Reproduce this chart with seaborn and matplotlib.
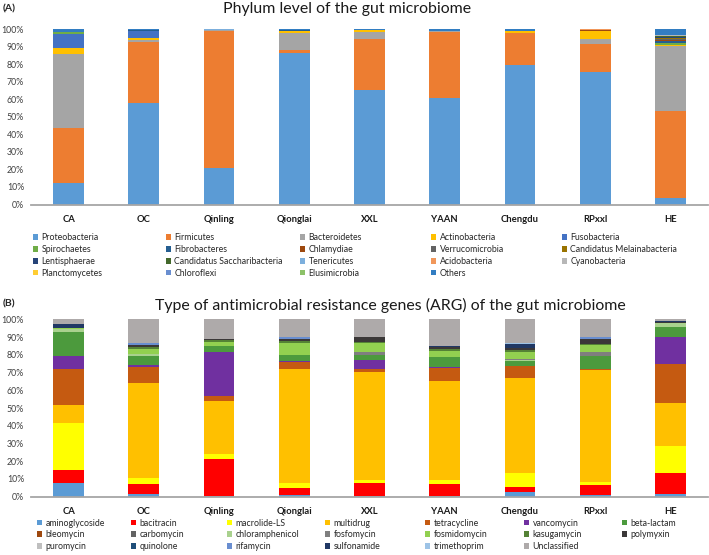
import numpy as np
import matplotlib
matplotlib.use("Agg")
import matplotlib.pyplot as plt
from matplotlib.patches import Patch
import seaborn as sns

# ---------------- data ----------------
sites = ["CA", "OC", "Qinling", "Qionglai", "XXL", "YAAN", "Chengdu", "RPxxl", "HE"]

# Panel A: phylum relative abundance (%)
phylum_names = ["Proteobacteria", "Firmicutes", "Bacteroidetes", "Actinobacteria", "Fusobacteria",
                "Spirochaetes", "Fibrobacteres", "Chlamydiae", "Verrucomicrobia", "Candidatus Melainabacteria",
                "Lentisphaerae", "Candidatus Saccharibacteria", "Tenericutes", "Acidobacteria", "Cyanobacteria",
                "Planctomycetes", "Chloroflexi", "Elusimicrobia", "Others"]
proteobacteria = [12.5, 57.8, 20.8, 86.4, 65.4, 60.6, 79.7, 75.5, 3.6]
firmicutes = [31.3, 35.1, 78.5, 1.6, 28.9, 37.9, 18.0, 16.3, 50.0]
bacteroidetes = [42.2, 1.0, 0.3, 9.9, 4.4, 0.4, 0.0, 2.5, 37.0]
actinobacteria = [3.2, 1.0, 0.0, 1.2, 0.9, 0.0, 1.2, 4.9, 0.6]
fusobacteria = [8.4, 4.3, 0.0, 0.0, 0.0, 0.2, 0.0, 0.0, 0.0]
spirochaetes = [0.6, 0.0, 0.0, 0.0, 0.0, 0.0, 0.0, 0.0, 1.2]
fibrobacteres = [0.0, 0.4, 0.0, 0.5, 0.0, 0.0, 0.0, 0.0, 0.8]
chlamydiae = [0.0, 0.0, 0.0, 0.0, 0.0, 0.0, 0.0, 0.5, 0.5]
verrucomicrobia = [0.0, 0.0, 0.0, 0.0, 0.0, 0.0, 0.0, 0.0, 0.6]
cand_melainabacteria = [0.0, 0.0, 0.0, 0.0, 0.0, 0.0, 0.0, 0.0, 0.5]
lentisphaerae = [0.0, 0.0, 0.0, 0.0, 0.0, 0.0, 0.0, 0.0, 0.8]
cand_saccharibacteria = [0.0, 0.0, 0.0, 0.0, 0.0, 0.0, 0.0, 0.0, 0.3]
tenericutes = [0.0, 0.0, 0.4, 0.0, 0.0, 0.0, 0.0, 0.0, 0.3]
acidobacteria = [0.0, 0.0, 0.0, 0.0, 0.0, 0.0, 0.0, 0.3, 0.0]
cyanobacteria = [0.0, 0.0, 0.0, 0.0, 0.0, 0.0, 0.0, 0.0, 0.3]
planctomycetes = [0.0] * 9
chloroflexi = [0.0] * 9
elusimicrobia = [0.0] * 9
others = [1.8, 0.4, 0.0, 0.4, 0.4, 0.9, 1.1, 0.0, 3.5]
phylum_values = [proteobacteria, firmicutes, bacteroidetes, actinobacteria, fusobacteria,
                 spirochaetes, fibrobacteres, chlamydiae, verrucomicrobia, cand_melainabacteria,
                 lentisphaerae, cand_saccharibacteria, tenericutes, acidobacteria, cyanobacteria,
                 planctomycetes, chloroflexi, elusimicrobia, others]

# Panel B: ARG type relative abundance (%)
arg_names = ["aminoglycoside", "bacitracin", "macrolide-LS", "multidrug", "tetracycline", "vancomycin",
             "beta-lactam", "bleomycin", "carbomycin", "chloramphenicol", "fosfomycin", "fosmidomycin",
             "kasugamycin", "polymyxin", "puromycin", "quinolone", "rifamycin", "sulfonamide",
             "trimethoprim", "Unclassified"]
aminoglycoside = [7.7, 1.7, 0.3, 1.0, 0.3, 0.3, 2.6, 0.8, 1.7]
bacitracin = [7.5, 5.5, 21.1, 3.9, 7.6, 7.0, 3.0, 5.8, 11.7]
macrolide_ls = [26.5, 3.3, 2.8, 2.8, 1.5, 2.1, 7.9, 1.9, 15.4]
multidrug = [10.0, 53.6, 29.9, 64.5, 60.9, 55.8, 53.2, 62.7, 23.8]
tetracycline = [20.1, 9.0, 2.8, 3.7, 1.9, 7.5, 7.1, 1.0, 22.2]
vancomycin = [7.5, 1.1, 24.7, 0.8, 5.0, 0.4, 0.0, 0.0, 15.2]
beta_lactam = [13.6, 4.9, 3.6, 3.3, 2.8, 5.8, 2.5, 7.1, 5.6]
bleomycin = [0.0] * 9
carbomycin = [0.0] * 9
chloramphenicol = [1.5, 1.5, 0.0, 0.0, 0.0, 0.0, 0.8, 0.0, 2.3]
fosfomycin = [0.0, 0.0, 0.0, 0.0, 1.6, 0.0, 0.7, 2.3, 0.0]
fosmidomycin = [0.6, 2.8, 2.2, 6.8, 5.2, 3.0, 3.8, 4.1, 0.0]
kasugamycin = [0.0, 1.2, 0.8, 0.8, 0.6, 1.1, 1.1, 0.5, 0.0]
polymyxin = [0.0, 0.7, 0.7, 1.5, 2.8, 1.2, 1.1, 2.9, 0.5]
puromycin = [0.0] * 9
quinolone = [0.0] * 9
rifamycin = [0.0, 1.3, 0.0, 0.8, 0.0, 0.0, 0.0, 0.8, 0.0]
sulfonamide = [2.5, 0.0, 0.0, 0.0, 0.0, 0.7, 2.3, 0.0, 0.6]
trimethoprim = [0.0, 0.0, 0.0, 0.0, 0.0, 0.0, 0.7, 0.0, 0.0]
unclassified = [2.5, 13.4, 11.1, 10.1, 9.8, 15.1, 13.2, 10.1, 1.0]
arg_values = [aminoglycoside, bacitracin, macrolide_ls, multidrug, tetracycline, vancomycin,
              beta_lactam, bleomycin, carbomycin, chloramphenicol, fosfomycin, fosmidomycin,
              kasugamycin, polymyxin, puromycin, quinolone, rifamycin, sulfonamide,
              trimethoprim, unclassified]

ytick_vals = list(range(0, 101, 10))
ytick_labels = [f"{v}%" for v in ytick_vals]

# ---------------- style ----------------
phylum_colors = ["#5B9BD5", "#ED7D31", "#A5A5A5", "#FFC000", "#4472C4",
                 "#70AD47", "#255E91", "#9E480E", "#636363", "#997300",
                 "#264478", "#43682B", "#7CAFDD", "#F1975A", "#B7B7B7",
                 "#FFCD33", "#698ED0", "#8CC168", "#327DC2"]
arg_colors = ["#5B9BD5", "#FF0000", "#FFFF00", "#FFC000", "#C55A11", "#7030A0",
              "#4C9A3D", "#9E480E", "#636363", "#A9D18E", "#7F7F7F", "#92D050",
              "#548235", "#3B3838", "#BFBFBF", "#1F4E79", "#698ED0", "#203864",
              "#9DC3E6", "#AEAAAA"]

sns.set_theme(style="white")
plt.rcParams['font.family'] = ['Lato', 'DejaVu Sans']

W, H = 709, 555
fig = plt.figure(figsize=(W / 100, H / 100), dpi=100)


def px_axes(left, top, right, bottom):
    return fig.add_axes([left / W, 1 - bottom / H, (right - left) / W, (bottom - top) / H])


def stacked(ax, values, colors):
    cum = np.cumsum(np.array(values, dtype=float), axis=0)
    for k in range(len(values) - 1, -1, -1):
        sns.barplot(x=sites, y=cum[k], order=sites, color=colors[k], saturation=1,
                    width=0.41, linewidth=0, errorbar=None, ax=ax)
    ax.set_xlim(-0.5, len(sites) - 0.5)
    ax.set_ylim(0, 100)
    ax.set_yticks(ytick_vals)
    ax.set_yticklabels(ytick_labels)
    ax.set_xlabel("")
    ax.set_ylabel("")
    for s in ["top", "right", "left"]:
        ax.spines[s].set_visible(False)
    ax.spines["bottom"].set_color("#A6A6A6")
    ax.spines["bottom"].set_linewidth(1.3)
    ax.tick_params(axis="y", length=0, labelsize=6.3, labelcolor="#404040", pad=5)
    ax.tick_params(axis="x", length=0, labelsize=6.8, labelcolor="#1a1a1a", pad=7.5)
    for lab in ax.get_xticklabels():
        lab.set_fontweight("bold")
    ax.set_facecolor("white")


def legend_columns(names, colors, ncols, col_x, top_y):
    for j in range(ncols):
        idx = list(range(j, len(names), ncols))
        handles = [Patch(facecolor=colors[i], edgecolor="none", label=names[i]) for i in idx]
        fig.legend(handles=handles, loc="upper left",
                   bbox_to_anchor=(col_x[j] / W, 1 - top_y / H),
                   frameon=False, fontsize=6.3, handlelength=0.62, handleheight=0.62,
                   handletextpad=0.35, labelspacing=0.33, borderpad=0, borderaxespad=0)


axA = px_axes(31, 29.3, 708, 204.5)
stacked(axA, phylum_values, phylum_colors)
axB = px_axes(31, 319.3, 708, 496.7)
stacked(axB, arg_values, arg_colors)

fig.text(347.5 / W, 1 - 9.5 / H, "Phylum level of the gut microbiome", ha="center", va="center",
         fontsize=11.4, color="#1a1a1a")
fig.text(390 / W, 1 - 305 / H, "Type of antimicrobial resistance genes (ARG) of the gut microbiome",
         ha="center", va="center", fontsize=11.4, color="#1a1a1a")
fig.text(3 / W, 1 - 9 / H, "(A)", ha="left", va="center", fontsize=7.5, fontweight="bold")
fig.text(3 / W, 1 - 304 / H, "(B)", ha="left", va="center", fontsize=7.5, fontweight="bold")

legend_columns(phylum_names, phylum_colors, 5, [33, 166, 300, 431, 562], 233)
legend_columns(arg_names, arg_colors, 7, [37, 131, 227, 325, 425, 524, 622], 518.5)

fig.savefig("out.png", dpi=100, facecolor="white")
